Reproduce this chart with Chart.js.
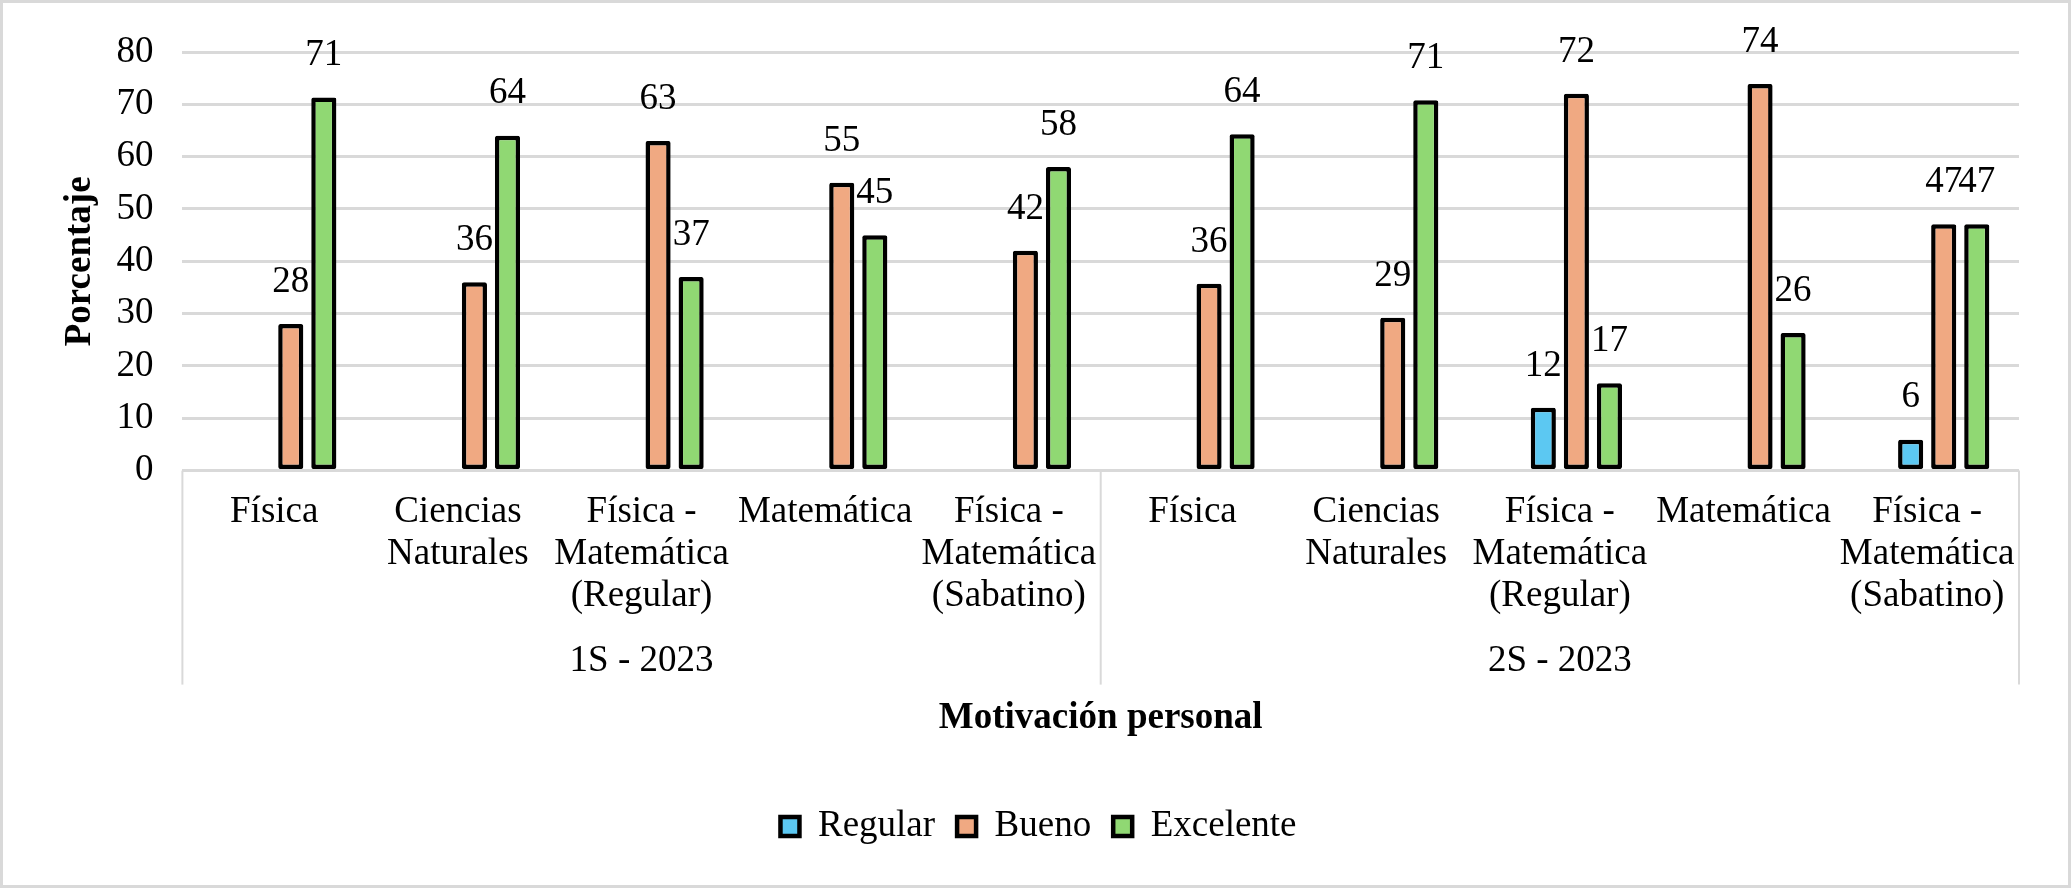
<!DOCTYPE html>
<html>
<head>
<meta charset="utf-8">
<title>Motivación personal</title>
<script src="https://cdn.jsdelivr.net/npm/chart.js@4.4.1/dist/chart.umd.min.js"></script>
<style>
  html, body { margin: 0; padding: 0; background: #fff; }
  #wrap { position: relative; width: 2071px; height: 888px; }
</style>
</head>
<body>
<div id="wrap"><canvas id="chart"></canvas></div>
<script>
'use strict';

// categories (two semesters, five careers each)
const categories = [
  'Física', ['Ciencias', 'Naturales'], ['Física -', 'Matemática', '(Regular)'], 'Matemática', ['Física -', 'Matemática', '(Sabatino)'],
  'Física', ['Ciencias', 'Naturales'], ['Física -', 'Matemática', '(Regular)'], 'Matemática', ['Física -', 'Matemática', '(Sabatino)']
];
const groups = ['1S - 2023', '2S - 2023'];

// series values (percent)
const regular = [null, null, null, null, null, null, null, 12, null, 5.9];
const bueno = [28, 36, 63, 55, 42, 35.7, 29.2, 72, 73.9, 47.1];
const excelente = [71.3, 64, 37, 45, 58, 64.3, 70.8, 16.7, 26.3, 47.1];

const yTicks = { min: 0, max: 80, step: 10 };

const serif = "'Liberation Serif', 'Times New Roman', serif";
const fontSize = 37;
Chart.defaults.font.family = serif;
Chart.defaults.font.size = fontSize;
Chart.defaults.color = '#000';

// white background + light frame
const frame = {
  id: 'frame',
  beforeDraw(chart) {
    const c = chart.ctx;
    c.save();
    c.fillStyle = '#fff';
    c.fillRect(0, 0, chart.width, chart.height);
    c.strokeStyle = '#d9d9d9';
    c.lineWidth = 3;
    c.strokeRect(1.5, 1.5, chart.width - 3, chart.height - 3);
    c.restore();
  }
};

// group box lines under the category axis
const groupLines = {
  id: 'groupLines',
  afterDraw(chart) {
    const x = chart.scales.x;
    const x2 = chart.scales.x2;
    const c = chart.ctx;
    const mid = (x.getPixelForValue(4) + x.getPixelForValue(5)) / 2;
    const top = chart.chartArea.bottom;
    const bottom = x2.top + 54;
    c.save();
    c.strokeStyle = '#d9d9d9';
    c.lineWidth = 2;
    [x.left, mid, x.right].forEach(px => {
      c.beginPath();
      c.moveTo(px, top);
      c.lineTo(px, bottom);
      c.stroke();
    });
    c.restore();
  }
};

// value labels above the bars
const valueLabels = {
  id: 'valueLabels',
  afterDatasetsDraw(chart) {
    const c = chart.ctx;
    c.save();
    c.font = fontSize + 'px ' + serif;
    c.fillStyle = '#000';
    c.textAlign = 'center';
    c.textBaseline = 'middle';
    chart.data.datasets.forEach((ds, i) => {
      if (!ds.label) return;
      chart.getDatasetMeta(i).data.forEach((bar, j) => {
        const v = ds.data[j];
        if (v === null || v === undefined) return;
        c.fillText(String(Math.round(v)), bar.x, bar.y - 42);
      });
    });
    c.restore();
  }
};

function barSet(label, data, color) {
  return {
    label: label,
    data: data,
    backgroundColor: color,
    borderColor: '#000',
    borderWidth: 4.5,
    borderSkipped: false,
    borderRadius: 2,
    barPercentage: 0.76,
    categoryPercentage: 0.72
  };
}

new Chart(document.getElementById('chart'), {
  type: 'bar',
  data: {
    labels: categories,
    datasets: [
      // empty first slot, as in the original layout
      barSet('', [], 'rgba(0,0,0,0)'),
      barSet('Regular', regular, '#5CC8F2'),
      barSet('Bueno', bueno, '#F0A982'),
      barSet('Excelente', excelente, '#90D873')
    ]
  },
  options: {
    responsive: true,
    maintainAspectRatio: false,
    animation: false,
    layout: { padding: { left: 58, right: 52, top: 52, bottom: 33 } },
    plugins: {
      tooltip: { enabled: false },
      legend: {
        position: 'bottom',
        labels: {
          boxWidth: 19,
          boxHeight: 19,
          padding: 22,
          font: { size: fontSize },
          filter: item => item.text !== ''
        }
      }
    },
    scales: {
      x: {
        grid: { display: false },
        border: { display: false },
        ticks: {
          autoSkip: false,
          maxRotation: 0,
          minRotation: 0,
          padding: 13,
          font: { size: fontSize, lineHeight: 1.135 }
        }
      },
      x2: {
        type: 'category',
        labels: groups,
        position: 'bottom',
        offset: true,
        grid: { display: false },
        border: { display: false },
        ticks: { padding: 2, font: { size: fontSize, lineHeight: 1.135 } },
        title: {
          display: true,
          text: 'Motivación personal',
          font: { size: fontSize, weight: 'bold' },
          padding: { top: 12, bottom: 45 }
        }
      },
      y: {
        min: yTicks.min,
        max: yTicks.max,
        ticks: { stepSize: yTicks.step, padding: 29, font: { size: fontSize } },
        grid: { color: '#d9d9d9', lineWidth: 3, drawTicks: false },
        border: { display: false },
        title: {
          display: true,
          text: 'Porcentaje',
          font: { size: fontSize, weight: 'bold' },
          padding: { top: 0, bottom: -15 }
        }
      }
    }
  },
  plugins: [frame, groupLines, valueLabels]
});
</script>
</body>
</html>
